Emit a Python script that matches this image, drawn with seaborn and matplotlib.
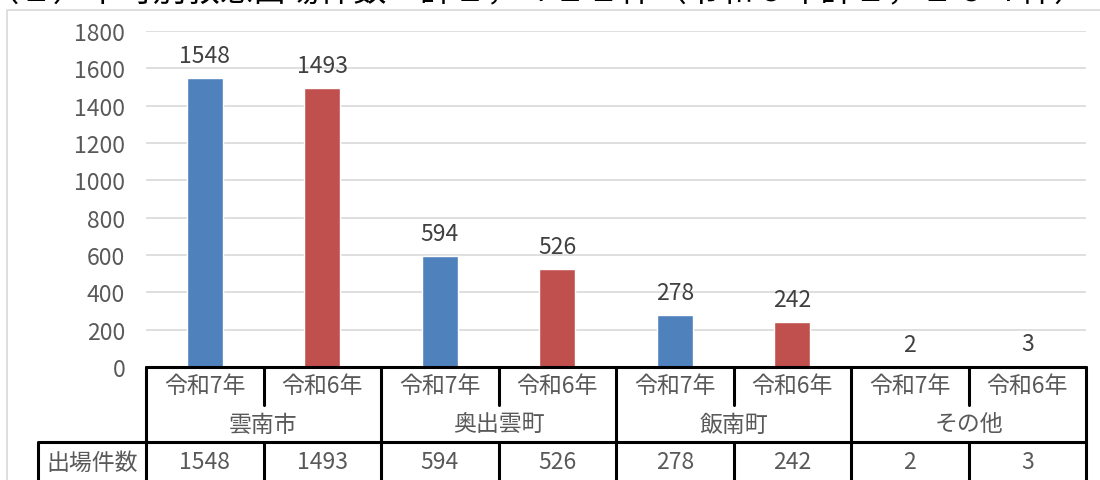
import pandas as pd
import matplotlib
matplotlib.use("Agg")
import matplotlib.pyplot as plt
import matplotlib.transforms as mtransforms
import seaborn as sns

title = "（１）市町別救急出場件数　計２，４２２件（令和６年計２，２６４件）"
groups = ["雲南市", "奥出雲町", "飯南町", "その他"]
years = ["令和7年", "令和6年"]
r7 = [1548, 594, 278, 2]
r6 = [1493, 526, 242, 3]
row_name = "出場件数"
colors = {"令和7年": "#4F81BD", "令和6年": "#C0504D"}

# long table: one row per bar
rows = []
for g, a, b in zip(groups, r7, r6):
    rows.append((g, years[0], a))
    rows.append((g, years[1], b))
df = pd.DataFrame(rows, columns=["group", "year", "count"])
df["slot"] = df["group"] + "_" + df["year"]

sns.set_style("white")
plt.rcParams["font.family"] = ["Noto Sans CJK JP", "DejaVu Sans"]

W, H = 1100, 481
txt = "#595959"
fs = 16.5
fig = plt.figure(figsize=(W / 100, H / 100), dpi=100)
ax = fig.add_axes([146 / W, 1 - 368 / H, (1086 - 146) / W, (368 - 32) / H])

sns.barplot(data=df, x="slot", y="count", hue="year", palette=colors,
            dodge=False, width=0.31, saturation=1, ax=ax, legend=False)

ax.set_ylim(0, 1800)
ax.set_yticks(range(0, 1801, 200))
ax.set_xlim(-0.5, len(df) - 0.5)
ax.set_xlabel("")
ax.set_ylabel("")
ax.set_xticklabels([])
ax.tick_params(axis="both", length=0, labelsize=fs, labelcolor=txt)
ax.tick_params(axis="y", pad=15)
ax.yaxis.grid(True, color="#D9D9D9", lw=1.2)
ax.set_axisbelow(True)
for s in ax.spines.values():
    s.set_visible(False)

for c in ax.containers:
    ax.bar_label(c, padding=8, fontsize=fs, color="#404040")

# pixel coords (from top-left) -> figure
pix = mtransforms.Affine2D().scale(1 / W, -1 / H).translate(0, 1) + fig.transFigure
tr = mtransforms.blended_transform_factory(ax.transData, pix)

# outer light frame
fig.add_artist(plt.Line2D([7, 7, 1100], [481, 11, 11], transform=pix,
                          color="#D9D9D9", lw=1.2))

# title (cut off at top in the reference)
fig.text(-14, 1, title, transform=pix, fontsize=24, color="black",
         va="baseline", ha="left")

# data table under the axis
lw = 2.2
n = len(df)
ax.add_artist(plt.Line2D([-0.5, n - 0.5], [368, 368], transform=tr, color="black", lw=lw, clip_on=False))
ax.add_artist(plt.Line2D([-0.5, n - 0.5], [443, 443], transform=tr, color="black", lw=lw, clip_on=False))
for k in range(n + 1):
    xb = k - 0.5
    if k % 2 == 0:
        ax.add_artist(plt.Line2D([xb, xb], [368, 481], transform=tr, color="black", lw=lw, clip_on=False))
    else:
        ax.add_artist(plt.Line2D([xb, xb], [368, 406], transform=tr, color="black", lw=lw, clip_on=False))
        ax.add_artist(plt.Line2D([xb, xb], [443, 481], transform=tr, color="black", lw=lw, clip_on=False))
fig.add_artist(plt.Line2D([38, 38, 146], [481, 443, 443], transform=pix, color="black", lw=lw))

for i, (y, v) in enumerate(zip(df["year"], df["count"])):
    ax.text(i, 387, y, transform=tr, ha="center", va="center", fontsize=fs, color=txt)
    ax.text(i, 463, str(v), transform=tr, ha="center", va="center", fontsize=fs, color=txt)
for j, g in enumerate(groups):
    ax.text(2 * j + 0.5, 425, g, transform=tr, ha="center", va="center", fontsize=fs, color=txt)
fig.text(92, 463, row_name, transform=pix, ha="center", va="center", fontsize=fs, color=txt)

fig.savefig("out.png", dpi=100)
